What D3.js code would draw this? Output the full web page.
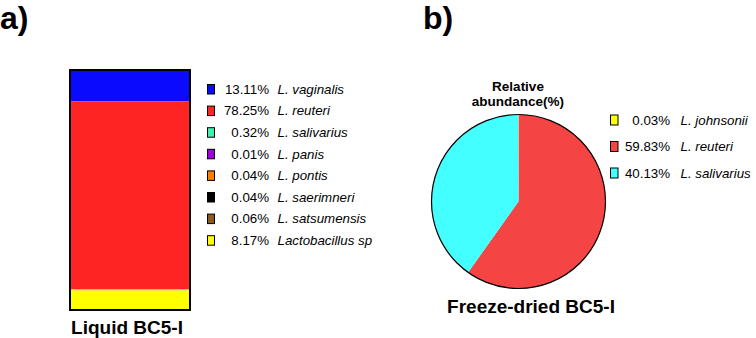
<!DOCTYPE html>
<html>
<head>
<meta charset="utf-8">
<script src="https://cdn.jsdelivr.net/npm/d3@7"></script>
<style>
  html, body { margin: 0; padding: 0; background: #fff; }
  svg { display: block; font-family: "Liberation Sans", Arial, sans-serif; }
</style>
</head>
<body>
<svg id="chart" width="756" height="338"></svg>
<script>
// ---- Data ----
const barSpecies = ["L. vaginalis", "L. reuteri", "L. salivarius", "L. panis", "L. pontis", "L. saerimneri", "L. satsumensis", "Lactobacillus sp"];
const barValues  = [13.11, 78.25, 0.32, 0.01, 0.04, 0.04, 0.06, 8.17];
const barColors  = ["#0a0aff", "#ff2424", "#3ff0b0", "#a000e0", "#ff7f00", "#000000", "#8b5a1e", "#ffff00"];
const barLabel   = "Liquid BC5-I";

const pieSpecies = ["L. reuteri", "L. salivarius", "L. johnsonii"];
const pieValues  = [59.83, 40.13, 0.03];
const pieColors  = ["#f54444", "#44ffff", "#ffff00"];
const pieLegendOrder = ["L. johnsonii", "L. reuteri", "L. salivarius"];
const pieTitle   = ["Relative", "abundance(%)"];
const pieLabel   = "Freeze-dried BC5-I";

const panelLabels = ["a)", "b)"];

// ---- Drawing ----
const svg = d3.select("#chart");
const fmt = v => v.toFixed(2) + "%";

// Panel labels
svg.append("text").attr("x", 0).attr("y", 29).attr("font-size", 32).attr("font-weight", "bold").text(panelLabels[0]);
svg.append("text").attr("x", 423).attr("y", 29).attr("font-size", 32).attr("font-weight", "bold").text(panelLabels[1]);

// ---- Panel a: stacked bar ----
const barX0 = 70, barX1 = 190;
const y = d3.scaleLinear().domain([0, 100]).range([70, 310]);
const cum = [0, ...d3.cumsum(barValues)];
const gBar = svg.append("g");
gBar.selectAll("rect.seg")
  .data(barValues)
  .join("rect")
  .attr("class", "seg")
  .attr("x", barX0)
  .attr("width", barX1 - barX0)
  .attr("y", (d, i) => y(cum[i]))
  .attr("height", (d, i) => y(cum[i + 1]) - y(cum[i]))
  .attr("fill", (d, i) => barColors[i]);
gBar.append("rect")
  .attr("x", barX0).attr("y", y(0))
  .attr("width", barX1 - barX0).attr("height", y(100) - y(0))
  .attr("fill", "none").attr("stroke", "#000").attr("stroke-width", 2);

svg.append("text").attr("x", 127).attr("y", 334).attr("text-anchor", "middle")
  .attr("font-size", 19).attr("font-weight", "bold").text(barLabel);

// Legend a
const legA = svg.append("g");
const rowA = d3.scaleLinear().domain([0, 1]).range([89, 110.6]);
const itemsA = legA.selectAll("g").data(barSpecies).join("g")
  .attr("transform", (d, i) => `translate(0,${rowA(i)})`);
itemsA.append("rect").attr("x", 207.5).attr("y", -4.5).attr("width", 7).attr("height", 9.5)
  .attr("fill", (d, i) => barColors[i]).attr("stroke", "#000").attr("stroke-width", 1);
itemsA.append("text").attr("x", 269).attr("y", 4.8).attr("text-anchor", "end")
  .attr("font-size", 13.3).attr("fill", "#000").text((d, i) => fmt(barValues[i]));
itemsA.append("text").attr("x", 277.5).attr("y", 4.8)
  .attr("font-size", 13.3).attr("font-style", "italic").attr("fill", "#000").text(d => d);

// ---- Panel b: pie ----
const cx = 518.5, cy = 201.5, r = 87;
const pie = d3.pie().sort(null).value(d => d);
const arc = d3.arc().innerRadius(0).outerRadius(r);
const gPie = svg.append("g").attr("transform", `translate(${cx},${cy})`);
gPie.selectAll("path").data(pie(pieValues)).join("path")
  .attr("d", arc)
  .attr("fill", (d, i) => pieColors[i])
  .attr("stroke", "none");
gPie.append("circle").attr("r", r).attr("fill", "none").attr("stroke", "#000").attr("stroke-width", 1.2);

svg.append("g").selectAll("text").data(pieTitle).join("text")
  .attr("x", 518).attr("y", (d, i) => 91 + i * 14.5)
  .attr("text-anchor", "middle").attr("font-size", 13.5).attr("font-weight", "bold").text(d => d);

svg.append("text").attr("x", 531).attr("y", 313).attr("text-anchor", "middle")
  .attr("font-size", 19).attr("font-weight", "bold").text(pieLabel);

// Legend b
const rowB = d3.scaleLinear().domain([0, 1]).range([120, 146.5]);
const itemsB = svg.append("g").selectAll("g").data(pieLegendOrder).join("g")
  .attr("transform", (d, i) => `translate(0,${rowB(i)})`);
const pieIdx = s => pieSpecies.indexOf(s);
itemsB.append("rect").attr("x", 610.5).attr("y", -5).attr("width", 7.5).attr("height", 10)
  .attr("fill", d => pieColors[pieIdx(d)]).attr("stroke", "#000").attr("stroke-width", 1);
itemsB.append("text").attr("x", 670).attr("y", 4.8).attr("text-anchor", "end")
  .attr("font-size", 13.3).attr("fill", "#000").text(d => fmt(pieValues[pieIdx(d)]));
itemsB.append("text").attr("x", 680.5).attr("y", 4.8)
  .attr("font-size", 13.3).attr("font-style", "italic").attr("fill", "#000").text(d => d);
</script>
</body>
</html>
